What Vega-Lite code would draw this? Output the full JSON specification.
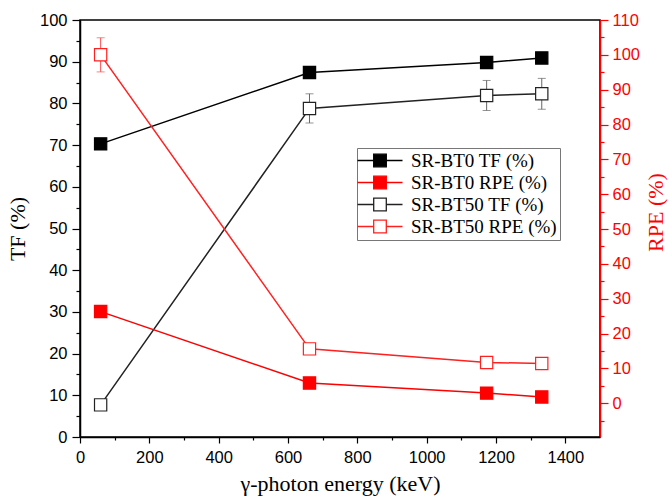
{
  "$schema": "https://vega.github.io/schema/vega-lite/v6.json",
  "width": 520,
  "height": 417,
  "autosize": "none",
  "padding": {"left": 80, "top": 20, "right": 69, "bottom": 62},
  "background": "white",
  "config": {
    "view": {"stroke": "black", "strokeWidth": 1.5},
    "axis": {"grid": false, "labelFlush": false, "labelFont": "Liberation Sans", "labelFontSize": 16.5, "titleFont": "Liberation Serif", "titleFontSize": 22, "titleFontWeight": "normal", "domainWidth": 1.5, "tickWidth": 1.2},
    "legend": {"title": null, "orient": "none", "legendX": 277, "legendY": 128, "symbolType": "M-2,0H0.7M2.8,0H5.5M0.7,-1.05H2.8V1.05H0.7Z", "symbolSize": 144, "symbolStrokeWidth": 1.3, "labelFont": "Liberation Serif", "labelFontSize": 19, "labelColor": "black", "labelOffset": 32, "rowPadding": 2, "padding": 3, "strokeColor": "#777777", "fillColor": "white"}
  },
  "data": {"values": [
    {"x": 59.5, "series": "SR-BT0 TF (%)", "group": "TF", "v": 70.3},
    {"x": 662, "series": "SR-BT0 TF (%)", "group": "TF", "v": 87.4},
    {"x": 1173, "series": "SR-BT0 TF (%)", "group": "TF", "v": 89.8},
    {"x": 1332, "series": "SR-BT0 TF (%)", "group": "TF", "v": 90.9},
    {"x": 59.5, "series": "SR-BT50 TF (%)", "group": "TF", "v": 7.7, "err": 0.8},
    {"x": 662, "series": "SR-BT50 TF (%)", "group": "TF", "v": 78.8, "err": 3.5},
    {"x": 1173, "series": "SR-BT50 TF (%)", "group": "TF", "v": 81.9, "err": 3.6},
    {"x": 1332, "series": "SR-BT50 TF (%)", "group": "TF", "v": 82.3, "err": 3.7},
    {"x": 59.5, "series": "SR-BT0 RPE (%)", "group": "RPE", "v": 26.3},
    {"x": 662, "series": "SR-BT0 RPE (%)", "group": "RPE", "v": 5.8},
    {"x": 1173, "series": "SR-BT0 RPE (%)", "group": "RPE", "v": 2.9},
    {"x": 1332, "series": "SR-BT0 RPE (%)", "group": "RPE", "v": 1.8},
    {"x": 59.5, "series": "SR-BT50 RPE (%)", "group": "RPE", "v": 100, "err": 4.9},
    {"x": 662, "series": "SR-BT50 RPE (%)", "group": "RPE", "v": 15.6, "err": 1.2},
    {"x": 1173, "series": "SR-BT50 RPE (%)", "group": "RPE", "v": 11.7, "err": 1.2},
    {"x": 1332, "series": "SR-BT50 RPE (%)", "group": "RPE", "v": 11.4, "err": 1.2}
  ]},
  "layer": [
    {
      "transform": [{"filter": "datum.group === 'TF'"}],
      "encoding": {
        "x": {"field": "x", "type": "quantitative", "scale": {"domain": [0, 1500], "nice": false},
          "axis": {"title": "γ-photon energy (keV)", "values": [0, 100, 200, 300, 400, 500, 600, 700, 800, 900, 1000, 1100, 1200, 1300, 1400], "format": "d",
            "labelExpr": "datum.value % 200 === 0 ? datum.label : ''",
            "tickSize": {"condition": {"test": "datum.value % 200 === 0", "value": 6}, "value": 3},
            "labelPadding": 6, "titlePadding": 8, "labelColor": "black", "titleColor": "black", "domainColor": "black", "tickColor": "black"}},
        "y": {"field": "v", "type": "quantitative", "scale": {"domain": [0, 100], "nice": false},
          "axis": {"title": "TF (%)", "values": [0, 5, 10, 15, 20, 25, 30, 35, 40, 45, 50, 55, 60, 65, 70, 75, 80, 85, 90, 95, 100],
            "labelExpr": "datum.value % 10 === 0 ? datum.label : ''",
            "tickSize": {"condition": {"test": "datum.value % 10 === 0", "value": 8}, "value": 4},
            "labelPadding": 5, "titlePadding": 10, "labelColor": "black", "titleColor": "black", "domainColor": "black", "tickColor": "black"}}
      },
      "layer": [
        {
          "mark": {"type": "line", "strokeWidth": 1.5},
          "encoding": {
            "stroke": {"field": "series", "type": "nominal",
              "scale": {"domain": ["SR-BT0 TF (%)", "SR-BT0 RPE (%)", "SR-BT50 TF (%)", "SR-BT50 RPE (%)"], "range": ["black", "red", "#222222", "#ff2020"]}}
          }
        },
        {
          "transform": [{"filter": "isValid(datum.err)"}],
          "mark": {"type": "errorbar", "color": "#666666", "thickness": 1, "ticks": {"size": 8, "color": "#666666"}},
          "encoding": {
            "yError": {"field": "err"}
          }
        },
        {
          "mark": {"type": "point", "shape": "square", "size": 150, "strokeWidth": 1.2, "opacity": 1},
          "encoding": {
            "stroke": {"field": "series", "type": "nominal",
              "scale": {"domain": ["SR-BT0 TF (%)", "SR-BT0 RPE (%)", "SR-BT50 TF (%)", "SR-BT50 RPE (%)"], "range": ["black", "red", "#222222", "#ff2020"]}},
            "fill": {"field": "series", "type": "nominal",
              "scale": {"domain": ["SR-BT0 TF (%)", "SR-BT0 RPE (%)", "SR-BT50 TF (%)", "SR-BT50 RPE (%)"], "range": ["black", "red", "white", "white"]}}
          }
        }
      ]
    },
    {
      "transform": [{"filter": "datum.group === 'RPE'"}],
      "encoding": {
        "x": {"field": "x", "type": "quantitative", "scale": {"domain": [0, 1500], "nice": false},
          "axis": {"title": "γ-photon energy (keV)", "values": [0, 100, 200, 300, 400, 500, 600, 700, 800, 900, 1000, 1100, 1200, 1300, 1400], "format": "d",
            "labelExpr": "datum.value % 200 === 0 ? datum.label : ''",
            "tickSize": {"condition": {"test": "datum.value % 200 === 0", "value": 6}, "value": 3},
            "labelPadding": 6, "titlePadding": 8, "labelColor": "black", "titleColor": "black", "domainColor": "black", "tickColor": "black"}},
        "y": {"field": "v", "type": "quantitative", "scale": {"domain": [-9.7, 110], "nice": false},
          "axis": {"orient": "right", "title": "RPE (%)", "titleAngle": 270, "titleBaseline": "top", "titleY": 192,
            "values": [-5, 0, 5, 10, 15, 20, 25, 30, 35, 40, 45, 50, 55, 60, 65, 70, 75, 80, 85, 90, 95, 100, 105, 110],
            "labelExpr": "datum.value % 10 === 0 ? datum.label : ''",
            "tickSize": {"condition": {"test": "datum.value % 10 === 0", "value": 8}, "value": 4},
            "labelPadding": 4, "titlePadding": 6, "labelColor": "red", "titleColor": "red", "domainColor": "red", "tickColor": "red"}}
      },
      "layer": [
        {
          "mark": {"type": "line", "strokeWidth": 1.5},
          "encoding": {
            "stroke": {"field": "series", "type": "nominal",
              "scale": {"domain": ["SR-BT0 TF (%)", "SR-BT0 RPE (%)", "SR-BT50 TF (%)", "SR-BT50 RPE (%)"], "range": ["black", "red", "#222222", "#ff2020"]}}
          }
        },
        {
          "transform": [{"filter": "isValid(datum.err)"}],
          "mark": {"type": "errorbar", "color": "#ff5050", "thickness": 1, "ticks": {"size": 8, "color": "#ff5050"}},
          "encoding": {
            "yError": {"field": "err"}
          }
        },
        {
          "mark": {"type": "point", "shape": "square", "size": 150, "strokeWidth": 1.2, "opacity": 1},
          "encoding": {
            "stroke": {"field": "series", "type": "nominal",
              "scale": {"domain": ["SR-BT0 TF (%)", "SR-BT0 RPE (%)", "SR-BT50 TF (%)", "SR-BT50 RPE (%)"], "range": ["black", "red", "#222222", "#ff2020"]}},
            "fill": {"field": "series", "type": "nominal",
              "scale": {"domain": ["SR-BT0 TF (%)", "SR-BT0 RPE (%)", "SR-BT50 TF (%)", "SR-BT50 RPE (%)"], "range": ["black", "red", "white", "white"]}}
          }
        }
      ]
    }
  ],
  "resolve": {"scale": {"y": "independent"}, "axis": {"y": "independent"}}
}
